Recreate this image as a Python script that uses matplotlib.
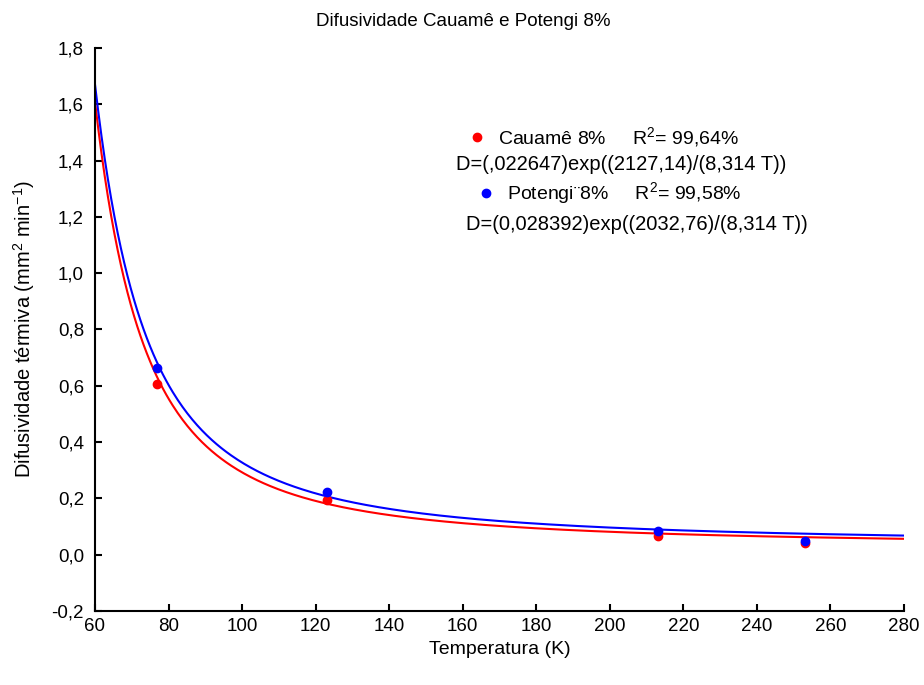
import numpy as np
import matplotlib
matplotlib.use("Agg")
import matplotlib.pyplot as plt

plt.rcParams["font.family"] = ["Liberation Sans", "DejaVu Sans"]
plt.rcParams["mathtext.fontset"] = "custom"
plt.rcParams["mathtext.rm"] = "Liberation Sans"
plt.rcParams["mathtext.it"] = "Liberation Sans"

# Dados experimentais
temperatura = [77, 123, 213, 253]
dif_cauame = [0.606, 0.194, 0.066, 0.042]
dif_potengi = [0.663, 0.223, 0.084, 0.049]

# Parametros dos ajustes D = a*exp(b/(R T))
params_cauame = [0.022647, 2127.14]
params_potengi = [0.028392, 2032.76]
R = 8.314

xticks = [60, 80, 100, 120, 140, 160, 180, 200, 220, 240, 260, 280]
yticks = [-0.2, 0.0, 0.2, 0.4, 0.6, 0.8, 1.0, 1.2, 1.4, 1.6, 1.8]

fig = plt.figure(figsize=(9.24, 6.85), dpi=100)
ax = fig.add_axes([0.1028, 0.108, 0.8755, 0.822])

T = np.linspace(60, 280, 500)
ax.plot(T, params_cauame[0] * np.exp(params_cauame[1] / (R * T)), color="red", lw=1.5)
ax.plot(T, params_potengi[0] * np.exp(params_potengi[1] / (R * T)), color="blue", lw=1.5)
ax.plot(temperatura, dif_cauame, "o", color="red", ms=6)
ax.plot(temperatura, dif_potengi, "o", color="blue", ms=6)

ax.set_xlim(60, 280)
ax.set_ylim(-0.2, 1.8)
ax.set_xticks(xticks)
ax.set_yticks(yticks)
ax.set_xticklabels([str(v) for v in xticks])
ax.set_yticklabels([f"{v:.1f}".replace(".", ",") for v in yticks])
ax.tick_params(direction="in", length=5, width=1.5, labelsize=13.5)
ax.tick_params(axis="y", pad=8)
ax.tick_params(axis="x", pad=5)
for s in ["top", "right"]:
    ax.spines[s].set_visible(False)
for s in ["left", "bottom"]:
    ax.spines[s].set_linewidth(1.5)

ax.set_xlabel("Temperatura (K)", fontsize=14, labelpad=4)
ax.set_ylabel("Difusividade térmiva (mm$^2$ min$^{-1}$)", fontsize=14.5, labelpad=10)
fig.text(0.501, 0.969, "Difusividade Cauamê e Potengi 8%", ha="center", va="center", fontsize=13.5)

# Legenda manual
fig.lines.append(plt.Line2D([0.516], [0.800], marker="o", color="red", ms=6,
                            transform=fig.transFigure, ls=""))
fig.lines.append(plt.Line2D([0.526], [0.718], marker="o", color="blue", ms=6,
                            transform=fig.transFigure, ls=""))
fig.text(0.539, 0.800, "Cauamê 8%     R$^2$= 99,64%", ha="left", va="center", fontsize=14)
fig.text(0.493, 0.760, "D=(,022647)exp((2127,14)/(8,314 T))", ha="left", va="center", fontsize=14.5)
fig.text(0.549, 0.718, "Potengi¨8%     R$^2$= 99,58%", ha="left", va="center", fontsize=14)
fig.text(0.504, 0.672, "D=(0,028392)exp((2032,76)/(8,314 T))", ha="left", va="center", fontsize=14.5)

fig.savefig("out.png", dpi=100)
